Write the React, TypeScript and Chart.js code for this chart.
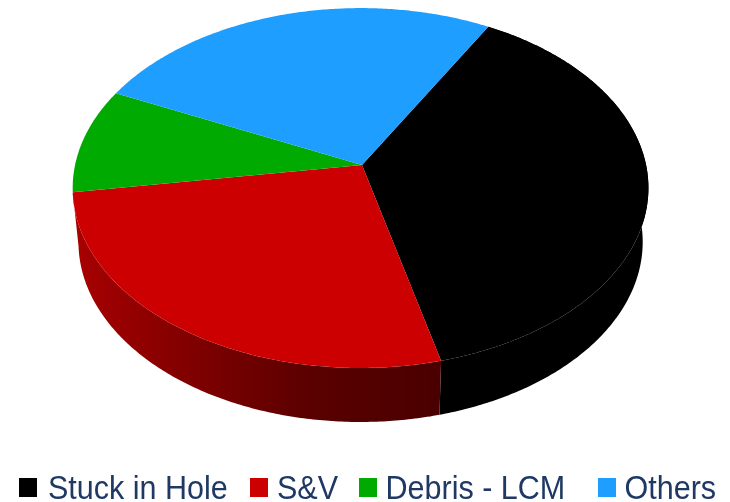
import { useEffect, useRef } from "react";
import { Chart, registerables } from "chart.js";

Chart.register(...registerables);

// Share of each cause, in percent.
const categories = ["Stuck in Hole", "S&V", "Debris - LCM", "Others"];
const shares = [37.9, 26.5, 9.4, 26.2];
const faceColors = ["#000000", "#CC0000", "#00AA00", "#1E9FFF"];
const textColor = "#1F3864";

// Legend row layout.
const legendBoxX = [19, 250, 359, 598];
const legendTextX = [48, 277, 385.5, 624.5];
const legendBox = { y: 478, w: 18, h: 19 };
const legendBaseline = 498.5;
const legendFont = "33px 'Liberation Sans', Arial, sans-serif";
const legendCondense = 0.925;

// Tilted-disc projection used for the pie's top face and its lower rim.
const tilt = { cx: 362, cy: 165, rx: 285.5, ry: 177, k: 0.128, m: 0.005 };
const depth = 54;
const lowerScaleX = 0.98;
const firstSliceAngle = 29.5;

type Pt = [number, number];

function project(angle: number, lower: boolean): Pt {
  const X = Math.cos(angle);
  const Y = Math.sin(angle);
  const w = 1 - tilt.k * Y + tilt.m * X;
  const s = lower ? lowerScaleX : 1;
  return [
    tilt.cx + (tilt.rx * s * X) / w,
    tilt.cy + (tilt.ry * Y) / w + (lower ? depth : 0),
  ];
}

function rim(start: number, end: number, lower: boolean): Pt[] {
  const steps = Math.max(2, Math.ceil(Math.abs(end - start) / 0.01));
  const pts: Pt[] = [];
  for (let i = 0; i <= steps; i++) {
    pts.push(project(start + ((end - start) * i) / steps, lower));
  }
  return pts;
}

function tracePolygon(ctx: CanvasRenderingContext2D, pts: Pt[]) {
  ctx.beginPath();
  pts.forEach(([x, y], i) => (i ? ctx.lineTo(x, y) : ctx.moveTo(x, y)));
  ctx.closePath();
}

// Replaces the flat arcs: each slice keeps the angles the pie controller
// computed, but is painted as a thick tilted wedge. Only slices facing the
// viewer get a visible outer wall.
const tiltedPie = {
  id: "tiltedPie",
  beforeDatasetsDraw(chart: Chart) {
    const ctx = chart.ctx;
    const arcs = chart.getDatasetMeta(0).data as any[];

    const redSide = ctx.createLinearGradient(75, 0, 441, 0);
    redSide.addColorStop(0, "#A80000");
    redSide.addColorStop(0.3, "#820000");
    redSide.addColorStop(0.65, "#5A0000");
    redSide.addColorStop(1, "#4A0000");
    const sideFills: (string | CanvasGradient)[] = ["#000000", redSide, "#005500", "#0F5080"];

    ctx.save();
    arcs.forEach((arc, i) => {
      if (Math.sin((arc.startAngle + arc.endAngle) / 2) <= 0) return;
      const top = rim(arc.startAngle, arc.endAngle, false);
      const bottom = rim(arc.startAngle, arc.endAngle, true).reverse();
      tracePolygon(ctx, [...top, ...bottom]);
      ctx.fillStyle = sideFills[i];
      ctx.fill();
    });
    arcs.forEach((arc, i) => {
      const top = rim(arc.startAngle, arc.endAngle, false);
      tracePolygon(ctx, [[tilt.cx, tilt.cy], ...top]);
      ctx.fillStyle = faceColors[i];
      ctx.fill();
    });
    ctx.restore();
    return false;
  },
};

// One-line legend below the pie, with its own spacing per entry.
const legendRow = {
  id: "legendRow",
  afterDraw(chart: Chart) {
    const ctx = chart.ctx;
    ctx.save();
    ctx.font = legendFont;
    ctx.textBaseline = "alphabetic";
    ctx.textAlign = "left";
    categories.forEach((label, i) => {
      ctx.fillStyle = faceColors[i];
      ctx.fillRect(legendBoxX[i], legendBox.y, legendBox.w, legendBox.h);
      ctx.save();
      ctx.translate(legendTextX[i], legendBaseline);
      ctx.scale(legendCondense, 1);
      ctx.fillStyle = textColor;
      ctx.fillText(label, 0, 0);
      ctx.restore();
    });
    ctx.restore();
  },
};

export default function App() {
  const ref = useRef<HTMLCanvasElement>(null);

  useEffect(() => {
    if (!ref.current) return;
    const chart = new Chart(ref.current, {
      type: "pie",
      data: {
        labels: categories,
        datasets: [{ data: shares, backgroundColor: faceColors, borderWidth: 0 }],
      },
      options: {
        animation: false,
        responsive: false,
        rotation: firstSliceAngle,
        plugins: {
          tooltip: { enabled: false },
          legend: { display: false },
        },
      },
      plugins: [tiltedPie, legendRow],
    } as any);
    return () => chart.destroy();
  }, []);

  return (
    <canvas
      ref={ref}
      width={730}
      height={502}
      style={{ position: "fixed", left: 0, top: 0, width: 730, height: 502 }}
    />
  );
}
